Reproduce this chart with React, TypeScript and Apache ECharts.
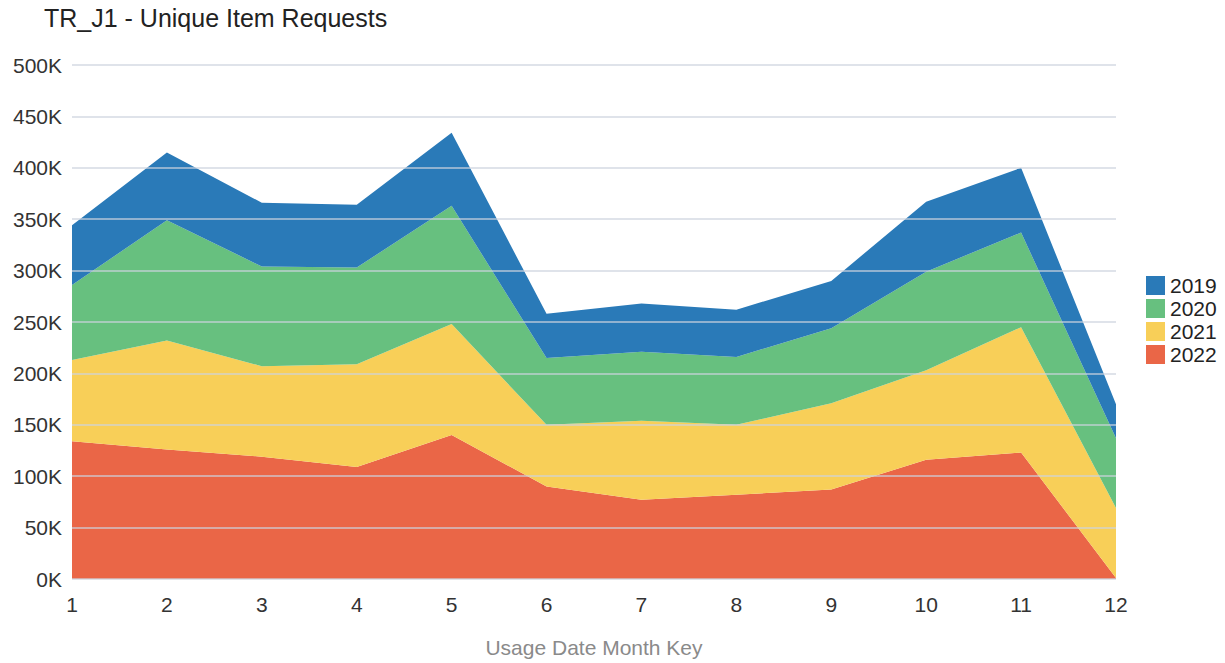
import React, { useEffect, useRef } from "react";
import * as echarts from "echarts";

const months = ["1", "2", "3", "4", "5", "6", "7", "8", "9", "10", "11", "12"];
const yearLabels = ["2019", "2020", "2021", "2022"];
const v2022 = [134000, 126000, 119000, 109000, 140000, 90000, 77000, 82000, 87000, 116000, 123000, 1000];
const v2021 = [79000, 106000, 88000, 100000, 108000, 60000, 77000, 68000, 84000, 87000, 122000, 68000];
const v2020 = [73000, 117000, 97000, 94000, 115000, 65000, 67000, 66000, 73000, 96000, 92000, 68000];
const v2019 = [58000, 66000, 62000, 61000, 71000, 43000, 47000, 46000, 46000, 68000, 63000, 33000];

const colors: Record<string, string> = {
  "2019": "#2a7ab8",
  "2020": "#67c07f",
  "2021": "#f8cf58",
  "2022": "#ea6647",
};

const FONT = "'Liberation Sans', Arial, sans-serif";

export default function App() {
  const ref = useRef<HTMLDivElement>(null);
  useEffect(() => {
    if (!ref.current) return;
    const chart = echarts.init(ref.current, undefined, { renderer: "svg" });
    const mk = (name: string, data: number[]) => ({
      name,
      type: "line",
      stack: "total",
      data,
      symbol: "none",
      lineStyle: { width: 0 },
      areaStyle: { color: colors[name], opacity: 1 },
      itemStyle: { color: colors[name] },
      z: 2,
    });
    chart.setOption({
      animation: false,
      textStyle: { fontFamily: FONT },
      title: {
        text: "TR_J1 - Unique Item Requests",
        left: 39,
        top: 0,
        textStyle: { fontSize: 25, fontWeight: "normal", color: "#222", fontFamily: FONT },
      },
      grid: { left: 72, right: 109, top: 65, bottom: 84, containLabel: false },
      legend: {
        data: yearLabels,
        orient: "vertical",
        left: 1141,
        top: 270,
        itemWidth: 19,
        itemHeight: 19,
        itemGap: 2,
        icon: "rect",
        textStyle: { fontSize: 21, color: "#222", fontFamily: FONT },
      },
      xAxis: {
        type: "category",
        data: months,
        boundaryGap: false,
        name: "Usage Date Month Key",
        nameLocation: "middle",
        nameGap: 58,
        nameTextStyle: { fontSize: 21, color: "#8a8a8a", fontFamily: FONT },
        axisLine: { show: false },
        axisTick: { show: false },
        axisLabel: { fontSize: 21, color: "#333", margin: 15, fontFamily: FONT },
        splitLine: { show: false },
      },
      yAxis: {
        type: "value",
        min: 0,
        max: 500000,
        interval: 50000,
        z: 5,
        axisLine: { show: false },
        axisTick: { show: false },
        axisLabel: {
          fontSize: 21,
          color: "#333",
          margin: 10,
          fontFamily: FONT,
          formatter: (v: number) => v / 1000 + "K",
        },
        splitLine: { show: true, lineStyle: { color: "rgba(205,210,222,0.85)", width: 1.5 } },
      },
      series: [mk("2022", v2022), mk("2021", v2021), mk("2020", v2020), mk("2019", v2019)],
    });
    return () => chart.dispose();
  }, []);
  return (
    <div
      ref={ref}
      style={{ position: "absolute", left: 0, top: 0, width: 1225, height: 663, background: "#fff" }}
    />
  );
}
